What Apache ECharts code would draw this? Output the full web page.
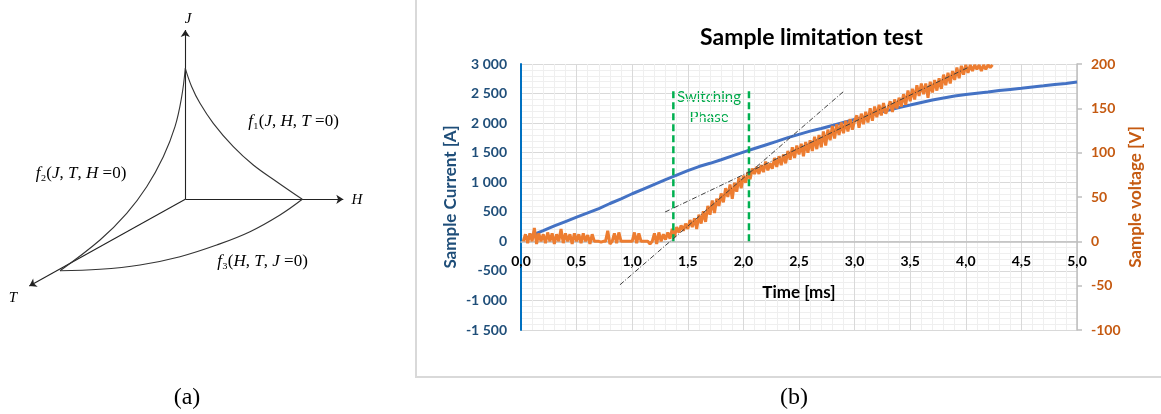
<!DOCTYPE html>
<html>
<head>
<meta charset="utf-8">
<script src="https://cdn.jsdelivr.net/npm/echarts@6/dist/echarts.min.js"></script>
<style>
html,body{margin:0;padding:0;background:#fff;}
#chart{width:1161px;height:414px;}
</style>
</head>
<body>
<div id="chart"></div>
<script>
// ---------- Panel (a): schematic (diagram units) ----------
const diagOrigin = [185.3, 199.3];
const axisTipJ = [185.3, 30];
const axisTipH = [343.3, 199.3];
const axisTipT = [29.3, 286];
const curveF1 = [[185.3,68.3],[191.7,86.7],[200,103.3],[213.3,123.3],[233.3,146.7],[253.3,165],[276.7,181.7],[302.3,199.3]];
const curveF2 = [[185.3,68.3],[181.7,96.7],[175,126.7],[163.3,156.7],[146.7,186.7],[126.7,213.3],[100,240],[60,270.7]];
const curveF3 = [[60,270.7],[100,269.3],[140,265],[180,256.7],[216.7,245],[250,231.7],[280,215],[302.3,199.3]];

// ---------- Panel (b): Sample limitation test ----------
const currentData = [[0.05,55],[0.1,105],[0.2,180],[0.3,260],[0.4,335],[0.5,410],[0.6,480],[0.7,555],[0.8,640],[0.9,720],
 [1.0,805],[1.1,885],[1.2,965],[1.3,1045],[1.4,1120],[1.5,1195],[1.6,1265],[1.7,1320],[1.8,1380],[1.9,1445],
 [2.0,1510],[2.1,1570],[2.2,1630],[2.3,1690],[2.4,1755],[2.5,1810],[2.6,1865],[2.7,1910],[2.8,1960],[2.9,2010],
 [3.0,2060],[3.1,2110],[3.2,2165],[3.3,2215],[3.4,2265],[3.5,2305],[3.6,2350],[3.7,2390],[3.8,2425],[3.9,2460],
 [4.0,2485],[4.1,2505],[4.2,2525],[4.3,2550],[4.4,2570],[4.5,2590],[4.6,2612],[4.7,2632],[4.8,2655],[4.9,2672],[5.0,2695]];
const voltStart = 0.02, voltStep = 0.02;
const voltageValues = [
 0,8,-2,9,0,15,-3,9,0,8,-2,10,0,9,-3,8,0,14,-2,9,0,8,-3,9,0,8,-2,9,0,7,-3,8,
 0,0,0,-1,0,0,12,-3,0,9,-2,10,0,0,0,0,0,0,10,-2,9,0,0,0,0,-3,0,9,-3,10,0,8,2,10,3,14,
 5,16,10,18,12,20,14,24,16,26,14,30,20,34,22,40,30,46,32,48,40,54,44,60,50,64,48,66,56,72,60,74,66,78,70,82,76,
 84,76,86,78,90,80,88,82,94,84,96,86,98,88,102,92,106,94,108,98,110,96,112,100,114,102,118,104,120,106,124,108,126,114,130,116,132,120,134,122,136,124,138,126,136,
 142,128,144,132,146,134,150,136,152,140,154,142,156,144,150,158,146,160,150,162,152,166,154,170,158,172,160,176,164,178,166,178,162,180,168,182,170,184,172,188,176,190,178,192,182,196,184,198,188,199,190,199,192,199,194,199,192,199,194,199,196,199
];
const voltageData = voltageValues.map((v,i)=>[+(voltStart+i*voltStep).toFixed(2), v]);
const switchStart = [[1.37,0],[1.37,171]];
const switchEnd = [[2.05,0],[2.05,171]];
const tangentA = [[0.89,-49],[2.91,170]];
const tangentB = [[1.295,33],[4.02,196]];

function fmtA(v){const a=Math.abs(v);const s=a>=1000?Math.floor(a/1000)+' '+String(a%1000).padStart(3,'0'):String(a);return (v<0?'-':'')+s;}
function fmtT(v){return v.toFixed(1).replace('.',',');}

const FONT='Lato';
const SERIF='Liberation Serif';
const chart = echarts.init(document.getElementById('chart'), null, {renderer:'canvas'});
const diagLine = {color:'#333', width:1.1};
const richDiag = {
  i:{fontFamily:SERIF,fontStyle:'italic',fontSize:17,color:'#222'},
  r:{fontFamily:SERIF,fontSize:17,color:'#222'},
  s:{fontFamily:SERIF,fontSize:17,color:'#222'}
};
const richAxis = {i:{fontFamily:SERIF,fontStyle:'italic',fontSize:15,color:'#222'}};
function diagText(x,y,txt,rich){return {type:'text',x:x,y:y,style:{text:txt,rich:rich||richDiag,textAlign:'center',textVerticalAlign:'middle'}};}

chart.setOption({
  animation:false,
  backgroundColor:'#fff',
  title:{text:'Sample limitation test',left:695,top:21,textStyle:{fontFamily:FONT,fontWeight:'bold',fontSize:23,color:'#000'}},
  grid:[
    {left:0,top:0,width:400,height:414},
    {left:521,top:64,width:556,height:266}
  ],
  xAxis:[
    {gridIndex:0,type:'value',min:0,max:400,show:false},
    {gridIndex:1,type:'value',min:0,max:5,interval:0.5,position:'bottom',offset:-88.7,
     axisLine:{show:true,onZero:false,lineStyle:{color:'#bfbfbf',width:1.5}},
     axisTick:{show:false},
     axisLabel:{formatter:fmtT,margin:13,fontFamily:FONT,fontWeight:'bold',fontSize:14,color:'#000'},
     splitLine:{show:true,lineStyle:{color:'#d9d9d9',width:1}},
     minorTick:{show:false,splitNumber:5},
     minorSplitLine:{show:true,lineStyle:{color:'#efefef',width:1}},
     name:'Time [ms]',nameLocation:'middle',nameGap:43,
     nameTextStyle:{fontFamily:FONT,fontWeight:'bold',fontSize:17,color:'#000'}}
  ],
  yAxis:[
    {gridIndex:0,type:'value',min:0,max:414,inverse:true,show:false},
    {gridIndex:1,type:'value',position:'left',min:-1500,max:3000,interval:500,
     axisLine:{show:true,onZero:false,lineStyle:{color:'#0070c0',width:2}},
     axisTick:{show:false},
     axisLabel:{formatter:fmtA,margin:14,fontFamily:FONT,fontWeight:'bold',fontSize:14,color:'#1f4e79'},
     splitLine:{show:true,lineStyle:{color:'#d9d9d9',width:1}},
     minorTick:{show:false,splitNumber:5},
     minorSplitLine:{show:true,lineStyle:{color:'#efefef',width:1}},
     name:'Sample Current [A]',nameLocation:'middle',nameGap:62,nameRotate:90,
     nameTextStyle:{fontFamily:FONT,fontWeight:'bold',fontSize:17,color:'#1f4e79'}},
    {gridIndex:1,type:'value',position:'right',min:-100,max:200,interval:50,
     axisLine:{show:true,onZero:false,lineStyle:{color:'#bfbfbf',width:1.5}},
     axisTick:{show:true,length:5,lineStyle:{color:'#bfbfbf',width:1.5}},
     axisLabel:{margin:14,fontFamily:FONT,fontWeight:'bold',fontSize:14,color:'#c55a11'},
     splitLine:{show:false},
     name:'Sample voltage [V]',nameLocation:'middle',nameGap:50,nameRotate:90,
     nameTextStyle:{fontFamily:FONT,fontWeight:'bold',fontSize:17,color:'#c55a11'}}
  ],
  graphic:[
    {type:'rect',shape:{x:416,y:-10,width:800,height:387},style:{fill:'none',stroke:'#d9d9d9',lineWidth:2},silent:true},
    {type:'text',x:709,y:97,style:{text:'Switching',fontFamily:FONT,fontSize:15,fill:'#00a84a',textAlign:'center',textVerticalAlign:'middle'}},
    {type:'text',x:709,y:117,style:{text:'Phase',fontFamily:FONT,fontSize:15,fill:'#00a84a',textAlign:'center',textVerticalAlign:'middle'}},
    diagText(188,19,'{i|J}',richAxis),
    diagText(357,200,'{i|H}',richAxis),
    diagText(13,298,'{i|T}',richAxis),
    diagText(293.5,122,'{i|f}{s|₁}{r|(}{i|J}{r|, }{i|H}{r|, }{i|T}{r| =0)}'),
    diagText(81,173.3,'{i|f}{s|₂}{r|(}{i|J}{r|, }{i|T}{r|, }{i|H}{r| =0)}'),
    diagText(262.5,261.7,'{i|f}{s|₃}{r|(}{i|H}{r|, }{i|T}{r|, }{i|J}{r| =0)}'),
    {type:'text',x:187,y:398,style:{text:'(a)',fontFamily:SERIF,fontSize:24,fill:'#000',textAlign:'center',textVerticalAlign:'middle'}},
    {type:'text',x:794,y:398,style:{text:'(b)',fontFamily:SERIF,fontSize:24,fill:'#000',textAlign:'center',textVerticalAlign:'middle'}}
  ],
  series:[
    // panel (a)
    {type:'lines',coordinateSystem:'cartesian2d',xAxisIndex:0,yAxisIndex:0,polyline:false,
     symbol:['none','arrow'],symbolSize:7,lineStyle:{color:'#222',width:1.1,opacity:1,curveness:0},
     data:[{coords:[diagOrigin,axisTipJ]},{coords:[diagOrigin,axisTipH]},{coords:[diagOrigin,axisTipT]}]},
    {type:'line',xAxisIndex:0,yAxisIndex:0,data:curveF1,smooth:0.4,showSymbol:false,lineStyle:diagLine},
    {type:'line',xAxisIndex:0,yAxisIndex:0,data:curveF2,smooth:0.4,showSymbol:false,lineStyle:diagLine},
    {type:'line',xAxisIndex:0,yAxisIndex:0,data:curveF3,smooth:0.4,showSymbol:false,lineStyle:diagLine},
    // panel (b)
    {name:'Sample Current',type:'line',xAxisIndex:1,yAxisIndex:1,data:currentData,showSymbol:false,
     lineStyle:{color:'#4472c4',width:3},itemStyle:{color:'#4472c4'}},
    {name:'Sample voltage',type:'line',xAxisIndex:1,yAxisIndex:2,data:voltageData,showSymbol:false,
     lineStyle:{color:'#ed7d31',width:3},itemStyle:{color:'#ed7d31'}},
    {type:'line',xAxisIndex:1,yAxisIndex:2,data:switchStart,showSymbol:false,
     lineStyle:{color:'#00b050',width:2.5,type:[7,4]}},
    {type:'line',xAxisIndex:1,yAxisIndex:2,data:switchEnd,showSymbol:false,
     lineStyle:{color:'#00b050',width:2.5,type:[7,4]}},
    {type:'line',xAxisIndex:1,yAxisIndex:2,data:tangentA,showSymbol:false,
     lineStyle:{color:'#404040',width:1,type:[5,2,1,2]}},
    {type:'line',xAxisIndex:1,yAxisIndex:2,data:tangentB,showSymbol:false,
     lineStyle:{color:'#404040',width:1,type:[5,2,1,2]}}
  ]
});
</script>
</body>
</html>
